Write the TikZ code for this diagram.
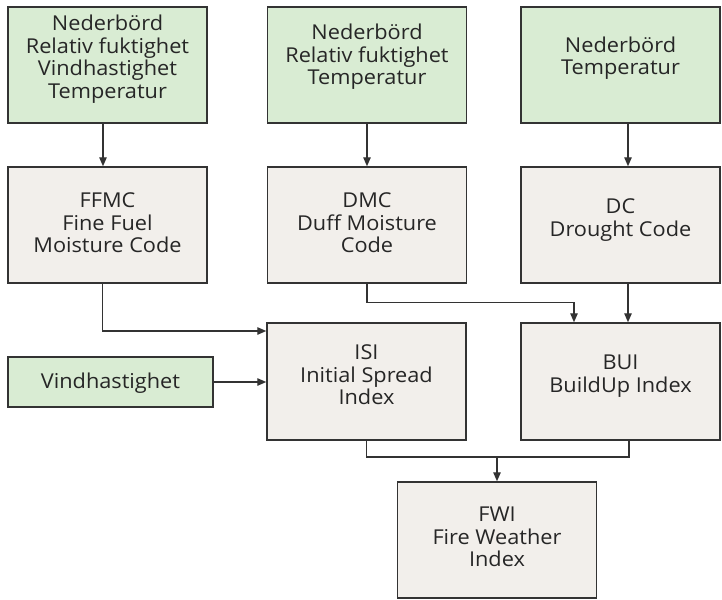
\documentclass[tikz,border=0pt]{standalone}
\usepackage{fontspec}
\setmainfont[FakeStretch=1.06]{Open Sans}
\usetikzlibrary{arrows.meta}
\definecolor{inputfill}{HTML}{D9ECD3}
\definecolor{codefill}{HTML}{F2EFEB}
\definecolor{edge}{HTML}{333333}
\begin{document}
\begin{tikzpicture}[x=1pt,y=-1pt,
  box/.style={draw=edge,line width=1.5pt,minimum width=199pt,minimum height=116pt,inner sep=0pt},
  inbox/.style={box,fill=inputfill},
  codebox/.style={box,fill=codefill},
  txt/.style={align=center,font=\fontsize{20.5}{22.5}\selectfont,text=black!85,inner sep=0pt},
  conn/.style={draw=edge,line width=1.3pt},
  arr/.style={conn,-{Triangle[length=9pt,width=7.5pt]}}]
\useasboundingbox (0,0) rectangle (722,599);
\fill[white] (0,0) rectangle (722,599);

% weather inputs
\node[inbox] (in1) at (107.5,65) {};
\node[inbox] (in2) at (367,65) {};
\node[inbox] (in3) at (620.5,65) {};
\node[inbox,minimum width=205pt,minimum height=50pt] (wind) at (110.5,382) {};

% moisture codes and indices
\node[codebox] (ffmc) at (107.5,225) {};
\node[codebox] (dmc) at (367,225) {};
\node[codebox] (dc) at (620.5,225) {};
\node[codebox,minimum height=117pt] (isi) at (366.5,381.5) {};
\node[codebox,minimum height=117pt] (bui) at (620.5,381.5) {};
\node[codebox] (fwi) at (497,540) {};

% labels
\node[txt] (t1) at (107.5,59) {Nederbörd\\Relativ fuktighet\\Vindhastighet\\Temperatur};
\node[txt] (t2) at (367,57) {Nederbörd\\Relativ fuktighet\\Temperatur};
\node[txt] (t3) at (620.5,58) {Nederbörd\\Temperatur};
\node[txt] (tw) at (110.5,383) {Vindhastighet};
\node[txt] (tffmc) at (107.5,223) {FFMC\\Fine Fuel\\Moisture Code};
\node[txt] (tdmc) at (367,223) {DMC\\Duff Moisture\\Code};
\node[txt] (tdc) at (620.5,220) {DC\\Drought Code};
\node[txt] (tisi) at (366.5,375) {ISI\\Initial Spread\\Index};
\node[txt] (tbui) at (620.5,376) {BUI\\BuildUp Index};
\node[txt] (tfwi) at (497,537) {FWI\\Fire Weather\\Index};

% connectors
\draw[arr] ([xshift=-4.5pt]in1.south) -- ([xshift=-4.5pt]ffmc.north);
\draw[arr] (in2.south) -- (dmc.north);
\draw[arr] ([xshift=7.5pt]in3.south) -- ([xshift=7.5pt]dc.north);
\draw[arr] ([xshift=-5pt]ffmc.south) |- ([yshift=50.5pt]isi.west);
\draw[arr] (wind.east) -- (wind.east -| isi.west);
\draw[arr] (dmc.south) -- ++(0,19) -| ([xshift=-46.5pt]bui.north);
\draw[arr] ([xshift=7.5pt]dc.south) -- ([xshift=7.5pt]bui.north);
\coordinate (merge) at (497,457);
\draw[conn] (isi.south) |- (merge) -| ([xshift=8.5pt]bui.south);
\draw[arr] (merge) -- (fwi.north);
\end{tikzpicture}
\end{document}
